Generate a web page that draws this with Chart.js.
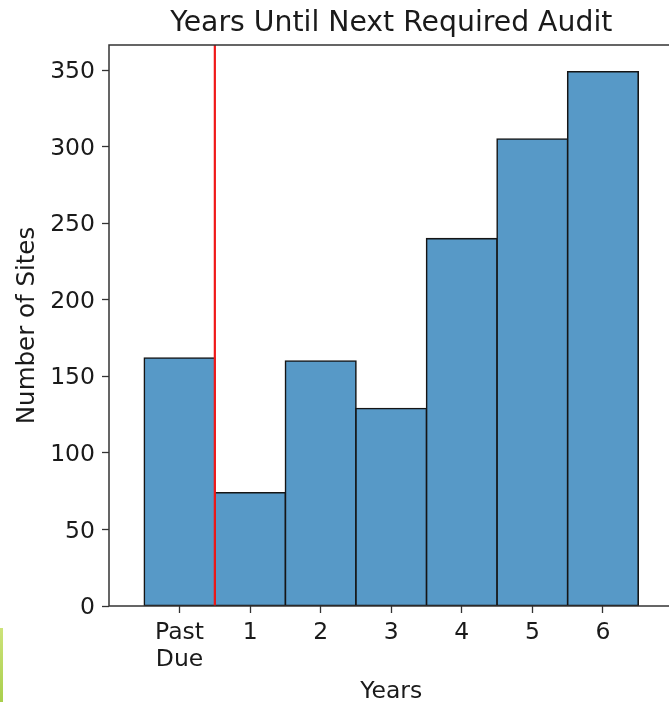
<!DOCTYPE html>
<html>
<head>
<meta charset="utf-8">
<script src="https://cdn.jsdelivr.net/npm/chart.js@4"></script>
<style>
  html, body { margin: 0; padding: 0; background: #fff; overflow: hidden; }
  #wrap { position: relative; width: 669px; height: 702px; overflow: hidden; }
  #stripe { position: absolute; left: 0; top: 628px; width: 3px; height: 74px;
            background: linear-gradient(#cde37a, #a9cf4c); }
</style>
</head>
<body>
<div id="wrap">
  <canvas id="chart" width="675" height="702" style="width:675px;height:702px"></canvas>
  <div id="stripe"></div>
</div>
<script>
// データ
const years = [0, 1, 2, 3, 4, 5, 6];
const siteCounts = [162, 74, 160, 129, 240, 305, 349];
const xTickLabels = [['Past', 'Due'], '1', '2', '3', '4', '5', '6'];
const yTicks = [0, 50, 100, 150, 200, 250, 300, 350];
const cutoffYear = 0.5;

const FONT = "'DejaVu Sans', sans-serif";
const TEXT = '#1a1a1a';

// 枠線・しきい値ライン・タイトル
const framePlugin = {
    id: 'frame',
    afterDatasetsDraw(chart) {
        const { ctx, chartArea: a, scales } = chart;
        const x = scales.x.getPixelForValue(cutoffYear);
        ctx.save();
        ctx.strokeStyle = '#f01818';
        ctx.lineWidth = 2.2;
        ctx.beginPath();
        ctx.moveTo(x, a.top);
        ctx.lineTo(x, a.bottom);
        ctx.stroke();

        ctx.strokeStyle = '#333';
        ctx.lineWidth = 1.5;
        ctx.strokeRect(a.left, a.top, a.right - a.left, a.bottom - a.top);

        ctx.fillStyle = TEXT;
        ctx.font = `28.3px ${FONT}`;
        ctx.textAlign = 'center';
        ctx.textBaseline = 'alphabetic';
        ctx.fillText('Years Until Next Required Audit', (a.left + a.right) / 2, 31);
        ctx.restore();
    }
};

const ctx = document.getElementById('chart').getContext('2d');
new Chart(ctx, {
    type: 'bar',
    data: {
        datasets: [{
            data: years.map((y, i) => ({ x: y, y: siteCounts[i] })),
            backgroundColor: '#5799c7',
            borderColor: '#151515',
            borderWidth: 1.6,
            inflateAmount: 0.8,
            borderSkipped: false,
            barPercentage: 1,
            categoryPercentage: 1
        }]
    },
    options: {
        responsive: false,
        animation: false,
        layout: { padding: { top: 45, left: 0, right: 1.5, bottom: 0 } },
        plugins: {
            legend: { display: false },
            tooltip: { enabled: false }
        },
        scales: {
            x: {
                type: 'linear',
                min: -1,
                max: 7,
                offset: false,
                grid: { display: true, offset: false, drawOnChartArea: false, drawTicks: true,
                        tickLength: 7, tickColor: '#333', tickWidth: 1.3 },
                border: { display: false },
                afterBuildTicks: (scale) => { scale.ticks = years.map(v => ({ value: v })); },
                afterFit: (scale) => { scale.height = 96; },
                ticks: {
                    color: TEXT,
                    font: { family: FONT, size: 23.5, lineHeight: 1.12 },
                    padding: 7,
                    maxRotation: 0,
                    autoSkip: false,
                    callback: (value) => xTickLabels[years.indexOf(value)]
                },
                title: {
                    display: true,
                    text: 'Years',
                    color: TEXT,
                    font: { family: FONT, size: 23.5 },
                    padding: { top: 0, bottom: -4 }
                }
            },
            y: {
                min: 0,
                max: Math.max(...siteCounts) * 1.05,
                grid: { display: true, drawOnChartArea: false, drawTicks: true,
                        tickLength: 7, tickColor: '#333', tickWidth: 1.3 },
                border: { display: false },
                afterBuildTicks: (scale) => { scale.ticks = yTicks.map(v => ({ value: v })); },
                afterFit: (scale) => { scale.width = 109; },
                ticks: {
                    color: TEXT,
                    font: { family: FONT, size: 23.5 },
                    padding: 7,
                    labelOffset: 2
                },
                title: {
                    display: true,
                    text: 'Number of Sites',
                    color: TEXT,
                    font: { family: FONT, size: 24.5 },
                    padding: { top: 13, bottom: 0 }
                }
            }
        }
    },
    plugins: [framePlugin]
});
</script>
</body>
</html>
